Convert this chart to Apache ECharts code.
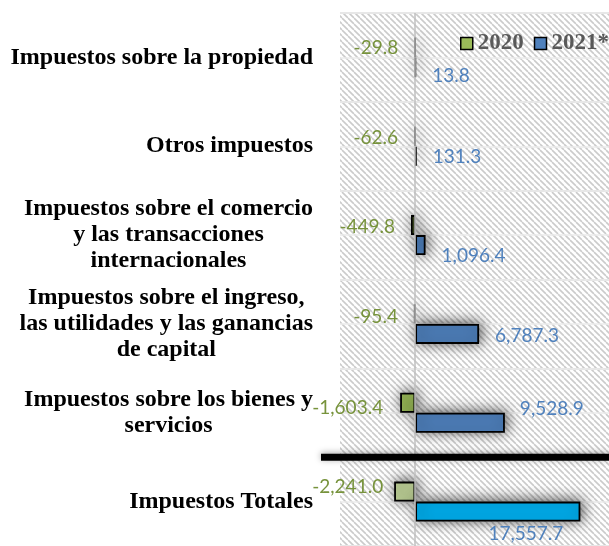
<!DOCTYPE html>
<html><head><meta charset="utf-8">
<script src="https://cdn.jsdelivr.net/npm/echarts@6/dist/echarts.min.js"></script>
<style>html,body{margin:0;padding:0;background:#fff}#c{width:609px;height:546px}</style>
</head><body><div id="c"></div>
<script>
// ---- data ----
const categories = [
  'Impuestos sobre la propiedad',
  'Otros impuestos',
  'Impuestos sobre el comercio\ny las transacciones\ninternacionales',
  'Impuestos sobre el ingreso,\nlas utilidades y las ganancias\nde capital',
  'Impuestos sobre los bienes y\nservicios',
  'Impuestos Totales'
];
const values2020 = [-29.8, -62.6, -449.8, -95.4, -1603.4, -2241.0];
const values2021 = [13.8, 131.3, 1096.4, 6787.3, 9528.9, 17557.7];
const seriesNames = ['2020', '2021*'];

// ---- styling ----
const hatch = document.createElement('canvas');
hatch.width = 6; hatch.height = 6;
const hc = hatch.getContext('2d');
hc.fillStyle = '#ffffff'; hc.fillRect(0, 0, 6, 6);
hc.strokeStyle = '#cbcbcb'; hc.lineWidth = 1.6;
[-6, 0, 6].forEach(k => { hc.beginPath(); hc.moveTo(k, 0); hc.lineTo(k + 6, 6); hc.stroke(); });

const fmt = v => v.toLocaleString('en-US', {minimumFractionDigits: 1, maximumFractionDigits: 1});
const nudge2020 = [[0, 0], [0, 1.5], [0, 1.5], [0, 2.5], [-1, 5.5], [5, -4.5]];
const nudge2021 = [[0, 8.5], [0, 1], [0, 11], [0, 2], [-1, -13.5], [-108, 22.5]];
const lastIdx = categories.length - 1;

const barStyle = {
  borderColor: '#000', borderWidth: 1.8,
  shadowBlur: 14, shadowColor: 'rgba(0,0,0,0.7)', shadowOffsetX: 2, shadowOffsetY: -1
};

const chart = echarts.init(document.getElementById('c'), null, {renderer: 'canvas'});
chart.setOption({
  animation: false,
  grid: {left: 340, top: 13, width: 269, height: 534, show: true,
         backgroundColor: {image: hatch, repeat: 'repeat'}, borderWidth: 0},
  legend: {
    data: seriesNames, left: 460, top: 32, width: 400, orient: 'horizontal', icon: 'rect',
    itemWidth: 12, itemHeight: 12, itemGap: 10, padding: 0,
    itemStyle: {borderColor: '#000', borderWidth: 1.5, shadowBlur: 0, shadowColor: 'transparent'},
    textStyle: {fontFamily: 'Liberation Serif', fontWeight: 'bold', fontSize: 23, color: '#595959'}
  },
  xAxis: {
    type: 'value', min: -8000, max: 20600, show: false
  },
  yAxis: [{
    type: 'category', data: categories, inverse: true,
    axisLine: {show: false}, axisTick: {show: false},
    splitLine: {show: true, lineStyle: {color: '#d9d9d9', width: 2}},
    axisLabel: {
      margin: 27, align: 'right',
      formatter: v => v.split('\n').map(l => '{c|' + l + '}').join('\n'),
      rich: {c: {align: 'center', fontFamily: 'Liberation Serif', fontWeight: 'bold',
                 fontSize: 24, lineHeight: 26, color: '#000'}}
    }
  }, {
    type: 'value', min: 0, max: 12, interval: 1, position: 'left',
    axisLine: {show: false}, axisTick: {show: false}, axisLabel: {show: false},
    splitLine: {show: true, lineStyle: {color: '#ebebeb', width: 1.5}}
  }],
  series: [{
    name: seriesNames[0], type: 'bar', barWidth: 20, barGap: '0%',
    itemStyle: Object.assign({color: '#9bbb59'}, barStyle),
    label: {show: true, position: 'left', distance: 16, formatter: p => fmt(p.value),
            fontFamily: 'Lato', fontSize: 19, color: '#77933c'},
    data: values2020.map((v, i) => ({
      value: v,
      itemStyle: i === lastIdx ? {color: '#c3d69b'} : undefined,
      label: {offset: nudge2020[i]}
    })),
    markLine: {
      silent: true, symbol: 'none', label: {show: false},
      lineStyle: {color: '#bfbfbf', width: 1.5, type: 'solid'},
      data: [{xAxis: 0}]
    }
  }, {
    name: seriesNames[1], type: 'bar', barWidth: 20, barGap: '0%',
    itemStyle: Object.assign({color: '#4f81bd'}, barStyle),
    label: {show: true, position: 'right', distance: 16, formatter: p => fmt(p.value),
            fontFamily: 'Lato', fontSize: 19, color: '#4f81bd'},
    data: values2021.map((v, i) => ({
      value: v,
      itemStyle: i === lastIdx ? {color: '#00b0f0'} : undefined,
      label: {offset: nudge2021[i]}
    }))
  }]
});

// thick separator line above the totals row, positioned from the axis
const yb = chart.convertToPixel({yAxisIndex: 1}, 2);
chart.setOption({
  graphic: [{
    type: 'line', z: 100,
    shape: {x1: 321, y1: yb, x2: 609, y2: yb},
    style: {stroke: '#000', lineWidth: 7, shadowBlur: 6, shadowColor: 'rgba(0,0,0,0.35)', shadowOffsetY: -1}
  }]
});
</script></body></html>
